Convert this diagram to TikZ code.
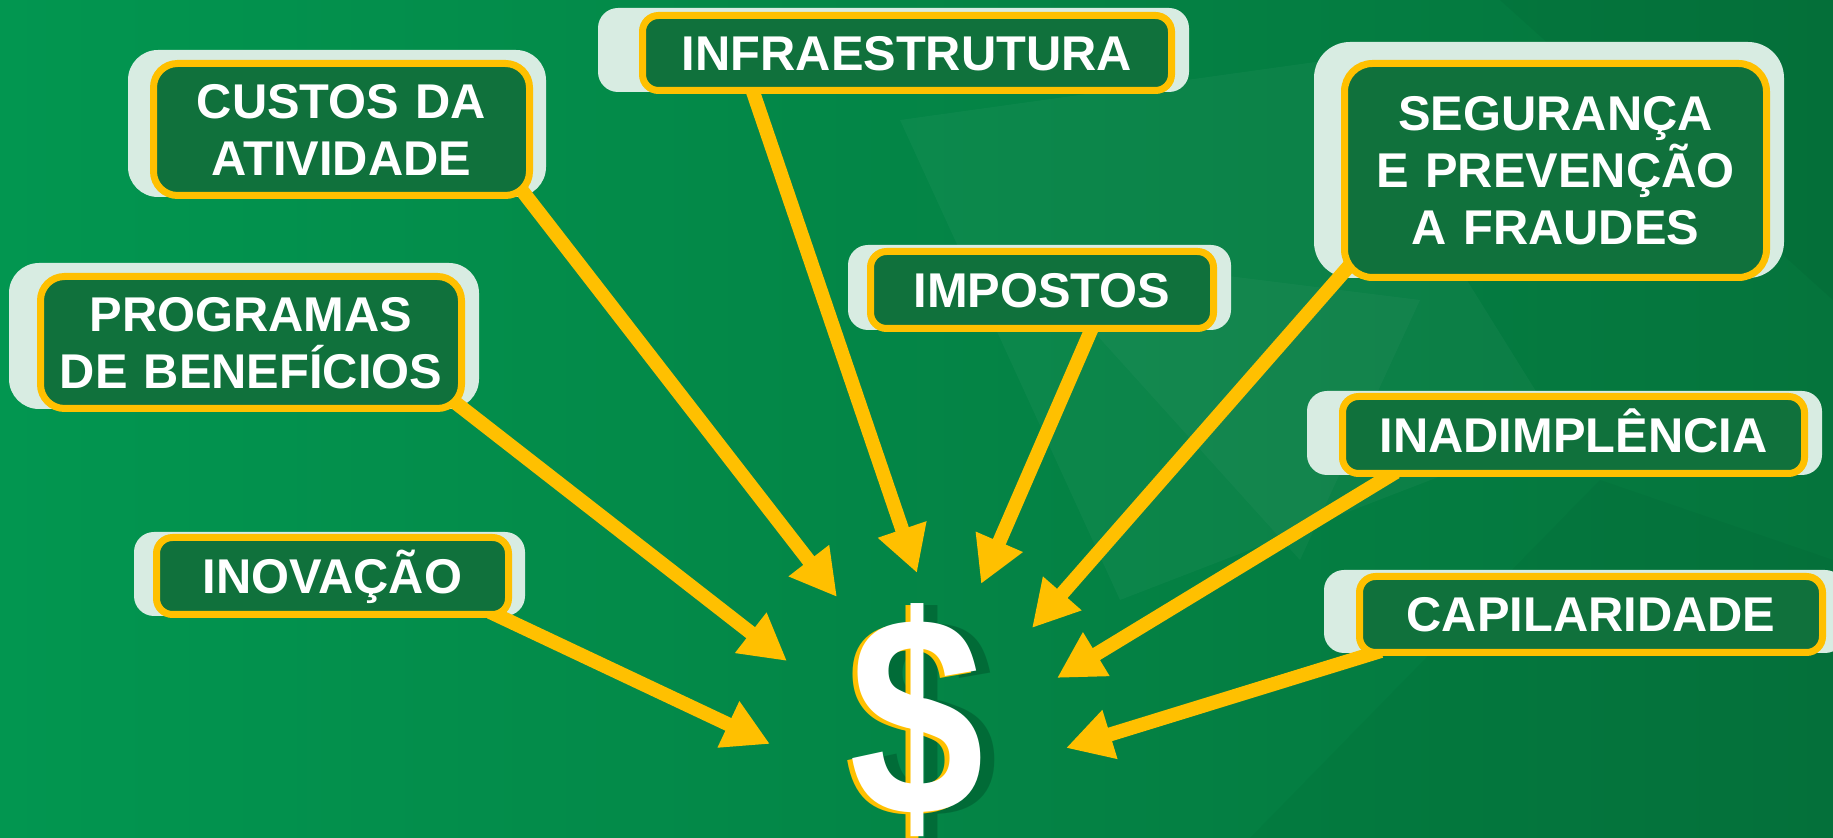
\documentclass[tikz,border=0pt]{standalone}
\usepackage{fontspec}
\setmainfont{Liberation Sans}
\usetikzlibrary{arrows.meta,calc}
\definecolor{bgL}{RGB}{2,150,80}
\definecolor{bgR}{RGB}{5,116,60}
\definecolor{dkg}{RGB}{16,113,60}
\definecolor{ylw}{RGB}{255,192,0}
\definecolor{lite}{RGB}{216,236,226}
\definecolor{shd}{RGB}{0,88,45}
\pgfdeclarelayer{bgl}
\pgfdeclarelayer{arr}
\pgfsetlayers{bgl,arr,main}
\newcommand{\lblfont}{\fontsize{24.4pt}{28.5pt}\selectfont\bfseries}
\newcommand{\dollarglyph}{\scalebox{0.95}[1.12]{\$}}
\begin{document}
\begin{tikzpicture}[x=0.5pt,y=-0.5pt,
  fbox/.style={draw=ylw, line width=3.5pt, fill=dkg, inner sep=0pt,
    text=white, font=\lblfont, align=center},
  sz/.style n args={3}{minimum width={(#1-7)*0.5pt}, minimum height={(#2-7)*0.5pt},
    rounded corners=#3, text width={(#1-20)*0.5pt}},
  one/.style={text height=17.5pt, text depth=0pt},
  two/.style={text height=17.5pt, text depth=28.5pt},
  three/.style={text height=17.5pt, text depth=57pt},
  backbox/.style={fill=lite},
  arw/.style={draw=ylw, line width=7pt, -{Triangle[length=23pt,width=24pt]}},
  dol/.style={font=\fontsize{127.5pt}{130pt}\selectfont\bfseries, anchor=base, inner sep=0pt}
]
\useasboundingbox (0,0) rectangle (1833,838);
\begin{pgfonlayer}{bgl}
  \shade[left color=bgL, right color=bgR] (0,0) rectangle (1833,838);
  \fill[white, opacity=0.035] (900,120) -- (1330,60) -- (1560,430) -- (1120,600) -- cycle;
  \fill[white, opacity=0.03] (1020,250) -- (1420,300) -- (1300,560) -- cycle;
  \fill[black, opacity=0.04] (1500,0) -- (1833,0) -- (1833,300) -- cycle;
  \fill[black, opacity=0.03] (1250,838) -- (1600,480) -- (1833,560) -- (1833,838) -- cycle;
  % back boxes
  \fill[backbox, rounded corners=15pt] (128,50) rectangle (546,197);
  \fill[backbox, rounded corners=10pt] (598,8) rectangle (1189,92);
  \fill[backbox, rounded corners=18pt] (1314,42) rectangle (1784,278);
  \fill[backbox, rounded corners=10pt] (848,245) rectangle (1231,330);
  \fill[backbox, rounded corners=15pt] (9,263) rectangle (479,409);
  \fill[backbox, rounded corners=10pt] (1307,391) rectangle (1822,475);
  \fill[backbox, rounded corners=10pt] (134,532) rectangle (525,616);
  \fill[backbox, rounded corners=10pt] (1324,570) rectangle (1845,653);
\end{pgfonlayer}

% front boxes
\node[fbox, sz={383}{139}{12pt}, two] (custos) at (341.5,129.5) {CUSTOS DA\\ATIVIDADE};
\node[fbox, sz={536}{82}{8pt}, one] (infra) at (907,53) {INFRAESTRUTURA};
\node[fbox, sz={429}{221}{14pt}, three] (seg) at (1555.5,170.5) {SEGURANÇA\\E PREVENÇÃO\\A FRAUDES};
\node[fbox, sz={350}{84}{8pt}, one] (imp) at (1042,290) {IMPOSTOS};
\node[fbox, sz={428}{139}{12pt}, two] (prog) at (251,342.5) {PROGRAMAS\\DE BENEFÍCIOS};
\node[fbox, sz={469}{84}{8pt}, one] (inad) at (1573.5,435) {INADIMPLÊNCIA};
\node[fbox, sz={359}{84}{8pt}, one] (inov) at (332.5,576) {INOVAÇÃO};
\node[fbox, sz={470}{83}{8pt}, one] (capi) at (1591,614.5) {CAPILARIDADE};

% dollar sign
\node[dol, text=shd, opacity=0.55] (dshadow) at (931,818) {\dollarglyph};
\node[dol, text=ylw] (dyellow) at (912,818) {\dollarglyph};
\node[dol, text=white] (dollar) at (917,816) {\dollarglyph};

% arrow tips
\coordinate (tcustos) at (837,597);
\coordinate (tinfra) at (917,573);
\coordinate (timp) at (981,584);
\coordinate (tseg) at (1032,628);
\coordinate (tprog) at (787,661);
\coordinate (tinad) at (1057,678);
\coordinate (tinov) at (770,744);
\coordinate (tcapi) at (1066,748);

\begin{pgfonlayer}{arr}
  \draw[arw] ($(custos.south east)+(-13,-11)$) -- (tcustos);
  \draw[arw] ($(infra.south west)+(113,-5)$) -- (tinfra);
  \draw[arw] ($(imp.south)+(50,-4)$) -- (timp);
  \draw[arw] ($(seg.south west)+(9,-16)$) -- (tseg);
  \draw[arw] ($(prog.south east)+(-13,-12)$) -- (tprog);
  \draw[arw] ($(inad.south west)+(57,-5)$) -- (tinad);
  \draw[arw] ($(inov.south east)+(-22,-6)$) -- (tinov);
  \draw[arw] ($(capi.south west)+(25,-5)$) -- (tcapi);
\end{pgfonlayer}
\end{tikzpicture}
\end{document}
